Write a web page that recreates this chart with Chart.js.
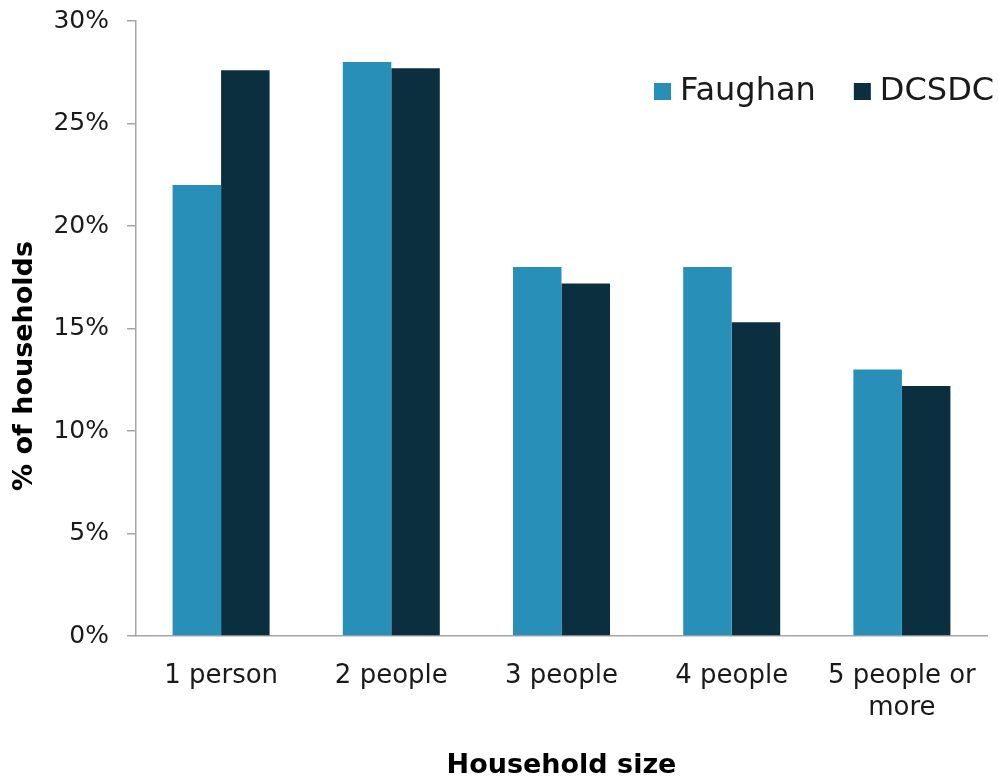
<!DOCTYPE html>
<html>
<head>
<meta charset="utf-8">
<script src="https://cdn.jsdelivr.net/npm/chart.js@4.4.1/dist/chart.umd.min.js"></script>
<style>
  html, body { margin: 0; padding: 0; background: #fff; }
  #wrap { width: 998px; height: 782px; }
</style>
</head>
<body>
<div id="wrap"><canvas id="myChart"></canvas></div>
<script>
// data
const categories = ['1 person', '2 people', '3 people', '4 people', ['5 people or', 'more']];
const faughan = [22, 28, 18, 18, 13];
const dcsdc = [27.6, 27.7, 17.2, 15.3, 12.2];
const yTicks = [0, 5, 10, 15, 20, 25, 30];
const yTitle = '% of households';

const ctx = document.getElementById('myChart');
const fontName = "'DejaVu Sans', sans-serif";
const axisGrey = '#a6a6a6';

// legend inside the plot, top right, plus the y title (sits lower than the axis middle)
const extras = {
    id: 'extras',
    afterDraw(chart) {
        const c = chart.ctx;
        const area = chart.chartArea;
        let x = area.right - 333;
        const y = area.top + 70;
        c.save();
        c.font = '32px ' + fontName;
        c.textBaseline = 'middle';
        chart.data.datasets.forEach(ds => {
            c.fillStyle = ds.backgroundColor;
            c.fillRect(x, y - 8, 17, 17);
            c.fillStyle = '#1a1a1a';
            c.fillText(ds.label, x + 26, y + 1);
            x += 26 + c.measureText(ds.label).width + 38;
        });
        c.restore();

        c.save();
        c.translate(25, 366);
        c.rotate(-Math.PI / 2);
        c.font = 'bold 27px ' + fontName;
        c.textAlign = 'center';
        c.textBaseline = 'middle';
        c.fillStyle = '#000';
        c.fillText(yTitle, 0, 0);
        c.restore();
    }
};

new Chart(ctx, {
    type: 'bar',
    data: {
        labels: categories,
        datasets: [{
            label: 'Faughan',
            data: faughan,
            backgroundColor: '#288fb8',
        }, {
            label: 'DCSDC',
            data: dcsdc,
            backgroundColor: '#0b2f3e',
        }]
    },
    options: {
        responsive: true,
        maintainAspectRatio: false,
        animation: false,
        devicePixelRatio: 1,
        categoryPercentage: 0.57,
        barPercentage: 1.0,
        layout: {
            padding: { top: 21, right: 11, left: 0, bottom: 0 }
        },
        plugins: {
            tooltip: { enabled: false },
            legend: { display: false },
        },
        scales: {
            x: {
                grid: { display: false },
                border: { display: true, color: axisGrey, width: 1.5 },
                ticks: {
                    color: '#1a1a1a',
                    maxRotation: 0,
                    autoSkip: false,
                    padding: 17,
                    font: { family: fontName, size: 26 },
                },
                title: {
                    display: true,
                    text: 'Household size',
                    color: '#000',
                    padding: { top: 0, bottom: 0 },
                    font: { family: fontName, size: 27, weight: 'bold' },
                },
                afterFit(scale) { scale.height = 146; },
            },
            y: {
                min: 0,
                max: 30,
                afterBuildTicks(scale) {
                    scale.ticks = yTicks.map(v => ({ value: v }));
                },
                grid: {
                    drawOnChartArea: false,
                    drawTicks: true,
                    tickLength: 9,
                    color: axisGrey,
                    lineWidth: 1.5,
                },
                border: { display: true, color: axisGrey, width: 1.5 },
                ticks: {
                    color: '#1a1a1a',
                    padding: 18,
                    font: { family: fontName, size: 25 },
                    callback: v => v + '%',
                },
                afterFit(scale) {
                    scale.width = 136;
                    scale.paddingTop = 8;
                    scale.paddingBottom = 8;
                },
            },
        },
    },
    plugins: [extras],
});
</script>
</body>
</html>
